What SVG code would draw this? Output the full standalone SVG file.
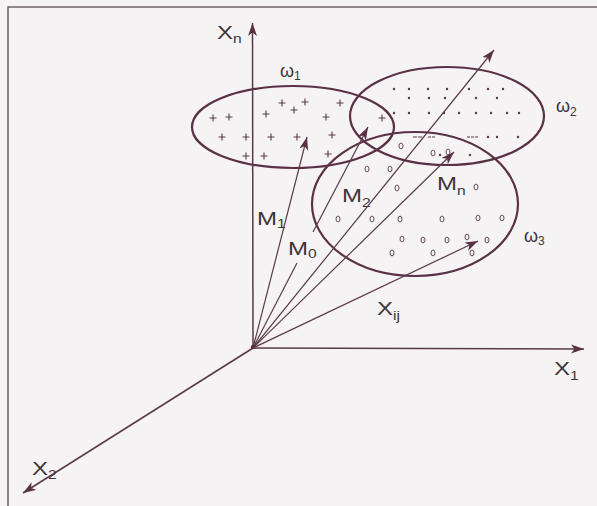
<svg xmlns="http://www.w3.org/2000/svg" xmlns:xlink="http://www.w3.org/1999/xlink" width="597" height="506" viewBox="0 0 597 506">
<style>
.frame{stroke:#6e6468;stroke-width:1.5;fill:none}
.axis{stroke:#5a3a46;stroke-width:1.5;fill:none}
.vec{stroke:#5a3a46;stroke-width:1.2;fill:none}
.cls{stroke:#5a3045;stroke-width:2.2;fill:none}
.lbl{font-family:"Liberation Sans",Arial,sans-serif;font-size:18.5px;fill:#3f3539}
.sub{font-size:12px}
.om{font-family:"Liberation Sans",Arial,sans-serif;font-size:18px;fill:#3f3539}
.pl{stroke:#5a3a46;stroke-width:1.1;fill:none}
.dt{fill:#5a3a46}
.oo{stroke:#5a3a46;stroke-width:0.9;fill:none}
.ds{stroke:#5a3a46;stroke-width:1.2}
</style>
<defs>
<marker id="ah" markerUnits="userSpaceOnUse" markerWidth="14" markerHeight="10" refX="13" refY="4.5" orient="auto">
<path d="M0,0 L13,4.5 L0,9 L3.5,4.5 Z" fill="#5a3045"/>
</marker>
<path id="p" class="pl" d="M-3.5,0h7M0,-3.5v7"/>
<ellipse id="o" class="oo" rx="2" ry="2.9"/>
</defs>
<rect width="597" height="506" fill="#f5f3f4"/>
<path class="frame" d="M8,506 V7 H597"/>

<g id="class-omega1">
<ellipse class="cls" cx="293" cy="127" rx="101" ry="41"/>
<text class="om" x="280" y="77">ω<tspan class="sub" dy="3">1</tspan></text>
<use xlink:href="#p" x="213" y="118"/><use xlink:href="#p" x="229" y="117"/><use xlink:href="#p" x="266" y="114"/>
<use xlink:href="#p" x="282" y="103"/><use xlink:href="#p" x="294" y="110"/><use xlink:href="#p" x="305" y="102"/>
<use xlink:href="#p" x="340" y="103"/><use xlink:href="#p" x="326" y="117"/><use xlink:href="#p" x="382" y="118"/>
<use xlink:href="#p" x="222" y="137"/><use xlink:href="#p" x="246" y="137"/><use xlink:href="#p" x="271" y="137"/>
<use xlink:href="#p" x="297" y="137"/><use xlink:href="#p" x="332" y="135"/><use xlink:href="#p" x="246" y="156"/>
<use xlink:href="#p" x="264" y="156"/><use xlink:href="#p" x="328" y="154"/>
</g>

<g id="class-omega2">
<ellipse class="cls" cx="447" cy="116" rx="97" ry="49"/>
<text class="om" x="556" y="112">ω<tspan class="sub" dy="4">2</tspan></text>
<g class="dt">
<circle cx="394" cy="89" r="1.2"/><circle cx="409" cy="89" r="1.2"/><circle cx="428" cy="89" r="1.2"/><circle cx="447" cy="89" r="1.2"/><circle cx="469" cy="89" r="1.2"/><circle cx="488" cy="89" r="1.2"/><circle cx="503" cy="89" r="1.2"/>
<circle cx="409" cy="98" r="1.2"/><circle cx="429" cy="98" r="1.2"/><circle cx="445" cy="98" r="1.2"/><circle cx="476" cy="98" r="1.2"/><circle cx="497" cy="98" r="1.2"/>
<circle cx="394" cy="113" r="1.2"/><circle cx="409" cy="113" r="1.2"/><circle cx="429" cy="113" r="1.2"/><circle cx="444" cy="113" r="1.2"/><circle cx="459" cy="113" r="1.2"/><circle cx="476" cy="113" r="1.2"/><circle cx="491" cy="113" r="1.2"/><circle cx="507" cy="113" r="1.2"/><circle cx="519" cy="113" r="1.2"/>
<circle cx="488" cy="137" r="1.2"/><circle cx="497" cy="137" r="1.2"/><circle cx="518" cy="137" r="1.2"/>
<circle cx="440" cy="155" r="1.2"/><circle cx="470" cy="155" r="1.2"/>
</g>
<path class="ds" d="M413,137h4M418,137h4M428,137h3M432,137h3M467,137h3M471,137h3M475,137h3"/>
</g>

<g id="class-omega3">
<ellipse class="cls" cx="415" cy="204" rx="103" ry="72"/>
<text class="om" x="524" y="242">ω<tspan class="sub" dy="3">3</tspan></text>
<use xlink:href="#o" x="401" y="146"/><use xlink:href="#o" x="433" y="153"/><use xlink:href="#o" x="448" y="152"/>
<use xlink:href="#o" x="367" y="169"/><use xlink:href="#o" x="390" y="169"/><use xlink:href="#o" x="397" y="188"/>
<use xlink:href="#o" x="476" y="187"/><use xlink:href="#o" x="338" y="219"/><use xlink:href="#o" x="372" y="219"/>
<use xlink:href="#o" x="400" y="219"/><use xlink:href="#o" x="442" y="219"/><use xlink:href="#o" x="478" y="218"/>
<use xlink:href="#o" x="502" y="218"/><use xlink:href="#o" x="402" y="239"/><use xlink:href="#o" x="423" y="240"/>
<use xlink:href="#o" x="447" y="240"/><use xlink:href="#o" x="467" y="237"/><use xlink:href="#o" x="487" y="240"/>
<use xlink:href="#o" x="392" y="253"/><use xlink:href="#o" x="433" y="253"/><use xlink:href="#o" x="472" y="253"/>
</g>

<g id="connectors">
<path class="axis" d="M253,348 L252.5,23" marker-end="url(#ah)"/>
<path class="axis" d="M253,348 L584,349" marker-end="url(#ah)"/>
<path class="axis" d="M253,348 L23,493" marker-end="url(#ah)"/>
<path class="vec" d="M253,348 L307,137" marker-end="url(#ah)"/>
<path class="vec" d="M253,348 L297,263"/>
<path class="vec" d="M313,232 L368,127" marker-end="url(#ah)"/>
<path class="vec" d="M253,348 L494,50" marker-end="url(#ah)"/>
<path class="vec" d="M253,348 L454,152" marker-end="url(#ah)"/>
<path class="vec" d="M253,348 L478,241" marker-end="url(#ah)"/>
<circle cx="253" cy="347" r="2.2" fill="#5a3045"/>
</g>

<g id="labels">
<text class="lbl" transform="translate(217,39) scale(1.3,1)">X<tspan class="sub" dy="4">n</tspan></text>
<text class="lbl" transform="translate(554,375) scale(1.3,1)">X<tspan class="sub" dy="5">1</tspan></text>
<text class="lbl" transform="translate(32,475) scale(1.3,1)">X<tspan class="sub" dy="4">2</tspan></text>
<text class="lbl" transform="translate(257,225) scale(1.3,1)">M<tspan class="sub" dy="3">1</tspan></text>
<text class="lbl" transform="translate(288,255) scale(1.3,1)">M<tspan class="sub" dy="3">0</tspan></text>
<text class="lbl" transform="translate(342,202) scale(1.3,1)">M<tspan class="sub" dy="5">2</tspan></text>
<text class="lbl" transform="translate(437,190) scale(1.3,1)">M<tspan class="sub" dy="5">n</tspan></text>
<text class="lbl" transform="translate(377,315) scale(1.3,1)">X<tspan class="sub" dy="5">ij</tspan></text>
</g>
</svg>
